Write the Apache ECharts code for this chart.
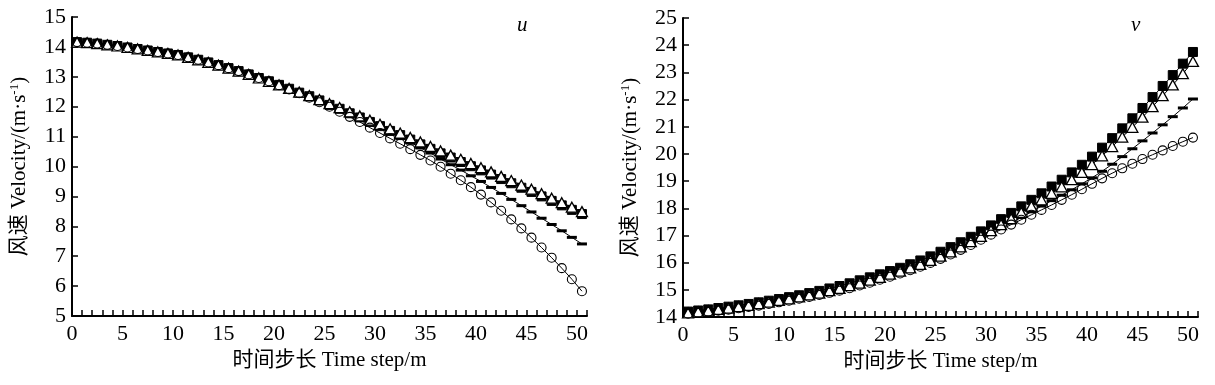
<!DOCTYPE html>
<html><head><meta charset="utf-8">
<script src="https://cdn.jsdelivr.net/npm/echarts@6/dist/echarts.min.js"></script>
<style>html,body{margin:0;padding:0;background:#fff}#c{width:1215px;height:385px}</style>
</head><body><div id="c"></div>
<script>
// time steps (x positions of the markers)
const steps = [0.5,1.5,2.5,3.5,4.5,5.5,6.5,7.5,8.5,9.5,10.5,11.5,12.5,13.5,14.5,15.5,16.5,17.5,18.5,19.5,20.5,21.5,22.5,23.5,24.5,25.5,26.5,27.5,28.5,29.5,30.5,31.5,32.5,33.5,34.5,35.5,36.5,37.5,38.5,39.5,40.5,41.5,42.5,43.5,44.5,45.5,46.5,47.5,48.5,49.5,50.5];

// u component
const uSquare = [14.16,14.14,14.11,14.07,14.03,13.98,13.93,13.88,13.83,13.78,13.73,13.65,13.57,13.48,13.39,13.29,13.19,13.08,12.96,12.85,12.73,
  12.6,12.47,12.35,12.21,12.06,11.93,11.78,11.64,11.49,11.35,11.19,11.05,10.9,10.74,10.59,10.44,10.3,10.15,10.01,9.87,9.73,9.58,9.44,9.29,9.15,9.0,8.85,8.7,8.55,8.41];
const uTriangle = [14.16,14.14,14.11,14.07,14.03,13.98,13.93,13.88,13.83,13.78,13.73,13.65,13.57,13.48,13.39,13.29,13.19,13.08,12.96,12.85,12.73,
  12.61,12.49,12.37,12.24,12.1,11.97,11.83,11.69,11.55,11.41,11.26,11.12,10.97,10.82,10.67,10.52,10.38,10.24,10.1,9.96,9.82,9.67,9.53,9.38,9.24,9.09,8.94,8.79,8.64,8.49];
const uDash = [14.16,14.14,14.11,14.07,14.03,13.98,13.93,13.88,13.83,13.78,13.73,13.65,13.57,13.48,13.39,13.29,13.19,13.08,12.96,12.85,12.73,
  12.6,12.47,12.33,12.18,12.04,11.9,11.75,11.6,11.45,11.3,11.14,10.98,10.81,10.63,10.45,10.25,10.06,9.88,9.69,9.5,9.3,9.1,8.9,8.69,8.48,8.27,8.06,7.85,7.63,7.41];
const uCircle = [14.16,14.14,14.11,14.07,14.03,13.98,13.93,13.88,13.83,13.78,13.73,13.65,13.57,13.48,13.39,13.29,13.19,13.08,12.96,12.85,12.72,
  12.58,12.45,12.3,12.15,12.0,11.83,11.66,11.49,11.3,11.12,10.94,10.76,10.58,10.39,10.2,9.99,9.76,9.54,9.31,9.06,8.8,8.52,8.23,7.93,7.62,7.29,6.95,6.6,6.23,5.83];

// v component
const vSquare = [14.2,14.24,14.28,14.33,14.38,14.43,14.48,14.54,14.6,14.66,14.73,14.8,14.88,14.96,15.05,15.14,15.24,15.35,15.46,15.57,
  15.69,15.81,15.94,16.08,16.23,16.4,16.57,16.75,16.95,17.15,17.37,17.6,17.83,18.07,18.31,18.55,18.8,19.05,19.32,19.6,19.9,20.23,20.58,20.94,21.31,21.69,22.09,22.5,22.9,23.32,23.75];
const vTriangle = [14.15,14.19,14.23,14.28,14.33,14.38,14.43,14.49,14.55,14.61,14.67,14.74,14.81,14.88,14.97,15.05,15.15,15.25,15.36,15.46,
  15.58,15.69,15.81,15.94,16.08,16.24,16.4,16.58,16.77,16.97,17.18,17.4,17.62,17.85,18.08,18.31,18.55,18.79,19.05,19.32,19.61,19.93,20.27,20.62,20.98,21.35,21.74,22.14,22.54,22.95,23.4];
const vDash = [14.14,14.17,14.21,14.25,14.29,14.34,14.39,14.44,14.5,14.56,14.62,14.69,14.76,14.83,14.91,14.99,15.08,15.18,15.29,15.4,
  15.52,15.64,15.77,15.9,16.04,16.19,16.35,16.52,16.7,16.88,17.07,17.26,17.46,17.66,17.87,18.08,18.28,18.48,18.68,18.9,19.12,19.36,19.62,19.9,20.19,20.48,20.77,21.07,21.37,21.69,22.02];
const vCircle = [14.12,14.15,14.19,14.23,14.27,14.32,14.37,14.42,14.48,14.54,14.6,14.67,14.74,14.81,14.89,14.97,15.06,15.16,15.26,15.37,
  15.48,15.6,15.72,15.85,15.99,16.14,16.3,16.47,16.65,16.84,17.03,17.22,17.4,17.58,17.76,17.94,18.12,18.31,18.5,18.7,18.9,19.1,19.29,19.47,19.64,19.81,19.97,20.13,20.29,20.45,20.6];

const xTickLabels = [0,5,10,15,20,25,30,35,40,45,50];
const xName = '时间步长 Time step/m';
const yName = '风速 Velocity/(m·s{sup|-1})';
const panelLabels = ['u','v'];

const serif = '"Liberation Serif","Noto Sans CJK SC",serif';
const pair = (ys) => steps.map((x,i)=>[x, ys[i]]);

function xAxis(gi){
  return {
    type:'value', gridIndex:gi, min:0, max:51, interval:1,
    axisLine:{show:true,lineStyle:{color:'#000',width:2}},
    axisTick:{show:true,inside:true,length:6,lineStyle:{color:'#000',width:1.5}},
    splitLine:{show:false},
    axisLabel:{color:'#000',fontFamily:serif,fontSize:22,margin:7,
      formatter:v=> xTickLabels.indexOf(v)>=0 ? String(v) : ''},
    name:xName, nameLocation:'middle', nameGap:33,
    nameTextStyle:{color:'#000',fontFamily:serif,fontSize:21,verticalAlign:'top'}
  };
}
function yAxis(gi,min,max){
  return {
    type:'value', gridIndex:gi, min:min, max:max, interval:1,
    axisLine:{show:true,lineStyle:{color:'#000',width:2}},
    axisTick:{show:true,inside:true,length:6,lineStyle:{color:'#000',width:1.5}},
    splitLine:{show:false},
    axisLabel:{color:'#000',fontFamily:serif,fontSize:22,margin:6},
    name:yName, nameLocation:'middle', nameGap:42, nameRotate:90,
    nameTextStyle:{color:'#000',fontFamily:serif,fontSize:21,
      rich:{sup:{fontSize:13,verticalAlign:'top',padding:[0,0,9,0],fontFamily:serif,color:'#000'}}}
  };
}
const lineStyle = {color:'#000',width:1};
function series(gi, ys, kind){
  const s = {type:'line', xAxisIndex:gi, yAxisIndex:gi, data:pair(ys), lineStyle:lineStyle,
    showSymbol:true, animation:false, silent:true, z:2};
  if(kind==='square'){ s.symbol='rect'; s.symbolSize=9; s.itemStyle={color:'#000',borderColor:'#000',borderWidth:1}; }
  if(kind==='triangle'){ s.symbol='triangle'; s.symbolSize=[11,10]; s.itemStyle={color:'#fff',borderColor:'#000',borderWidth:1.3}; }
  if(kind==='dash'){ s.symbol='rect'; s.symbolSize=[10,3]; s.itemStyle={color:'#000',borderWidth:0}; }
  if(kind==='circle'){ s.symbol='circle'; s.symbolSize=9; s.itemStyle={color:'rgba(255,255,255,0)',borderColor:'#000',borderWidth:1.1}; }
  return s;
}

const chart = echarts.init(document.getElementById('c'), null, {renderer:'canvas'});
chart.setOption({
  backgroundColor:'#fff',
  animation:false,
  grid:[
    {left:72, top:17, width:515, height:299},
    {left:683, top:18, width:515, height:299}
  ],
  xAxis:[xAxis(0), xAxis(1)],
  yAxis:[yAxis(0,5,15), yAxis(1,14,25)],
  series:[
    series(0,uSquare,'square'), series(0,uDash,'dash'), series(0,uTriangle,'triangle'), series(0,uCircle,'circle'),
    series(1,vSquare,'square'), series(1,vDash,'dash'), series(1,vTriangle,'triangle'), series(1,vCircle,'circle')
  ],
  graphic:[
    {type:'text', left:517, top:15, style:{text:panelLabels[0], font:'italic 21px "Liberation Serif", serif', fill:'#000'}},
    {type:'text', left:1131, top:15, style:{text:panelLabels[1], font:'italic 21px "Liberation Serif", serif', fill:'#000'}}
  ]
});
</script></body></html>
